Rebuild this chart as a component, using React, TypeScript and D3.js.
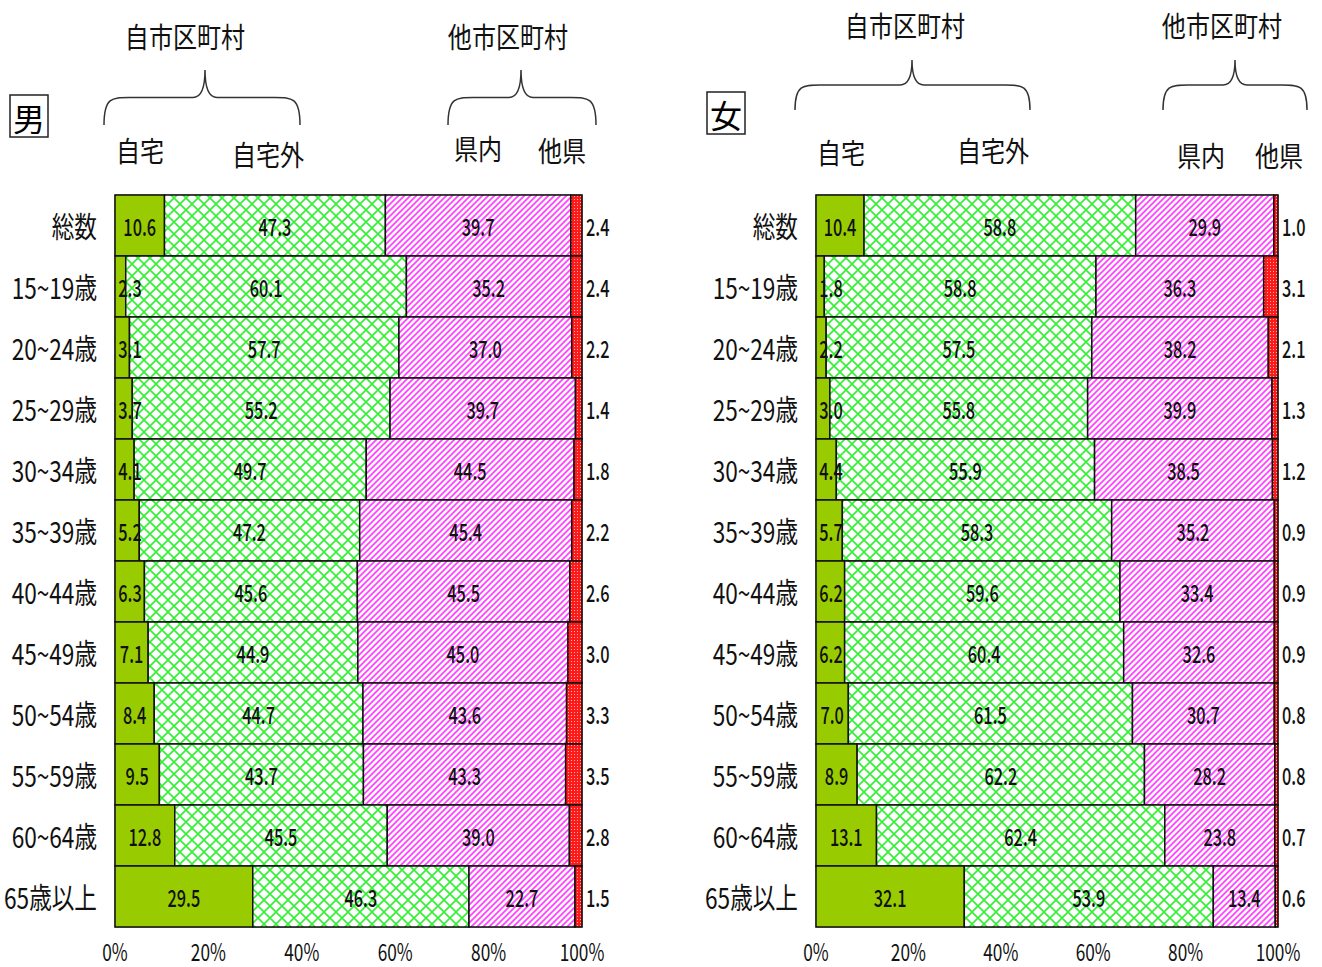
import React from "react";
import * as d3 from "d3";

const categories = ["総数", "15~19歳", "20~24歳", "25~29歳", "30~34歳", "35~39歳", "40~44歳", "45~49歳", "50~54歳", "55~59歳", "60~64歳", "65歳以上"];
const seriesNames = ["自宅", "自宅外", "県内", "他県"];

const maleHome = [10.6, 2.3, 3.1, 3.7, 4.1, 5.2, 6.3, 7.1, 8.4, 9.5, 12.8, 29.5];
const maleAway = [47.3, 60.1, 57.7, 55.2, 49.7, 47.2, 45.6, 44.9, 44.7, 43.7, 45.5, 46.3];
const maleInPref = [39.7, 35.2, 37.0, 39.7, 44.5, 45.4, 45.5, 45.0, 43.6, 43.3, 39.0, 22.7];
const maleOtherPref = [2.4, 2.4, 2.2, 1.4, 1.8, 2.2, 2.6, 3.0, 3.3, 3.5, 2.8, 1.5];

const femaleHome = [10.4, 1.8, 2.2, 3.0, 4.4, 5.7, 6.2, 6.2, 7.0, 8.9, 13.1, 32.1];
const femaleAway = [58.8, 58.8, 57.5, 55.8, 55.9, 58.3, 59.6, 60.4, 61.5, 62.2, 62.4, 53.9];
const femaleInPref = [29.9, 36.3, 38.2, 39.9, 38.5, 35.2, 33.4, 32.6, 30.7, 28.2, 23.8, 13.4];
const femaleOtherPref = [1.0, 3.1, 2.1, 1.3, 1.2, 0.9, 0.9, 0.9, 0.8, 0.8, 0.7, 0.6];

const tickValues = [0, 20, 40, 60, 80, 100];
const tickLabels = ["0%", "20%", "40%", "60%", "80%", "100%"];

const FONT = "'Noto Sans CJK JP', 'Noto Sans', sans-serif";
const fills = ["#99CC00", "url(#pHatchGreen)", "url(#pHatchPink)", "url(#pDotRed)"];

function CText({ x, y, size, anchor = "middle", sx = 0.78, weight = 400, children }: any) {
  return (
    <text
      transform={`translate(${x},${y}) scale(${sx},1)`}
      fontSize={size}
      fontFamily={FONT}
      fontWeight={weight}
      textAnchor={anchor}
      dominantBaseline="central"
      fill="#111"
    >
      {children}
    </text>
  );
}

function bracePath(x0: number, x1: number, xm: number, yTop: number, yBot: number) {
  const yMid = yTop + (yBot - yTop) * 0.5;
  return `M${x0},${yBot} C${x0},${yMid} ${x0 + 8},${yMid} ${x0 + 25},${yMid}
    L${xm - 12},${yMid} C${xm - 4},${yMid} ${xm},${yMid - 8} ${xm},${yTop}
    C${xm},${yMid - 8} ${xm + 4},${yMid} ${xm + 12},${yMid}
    L${x1 - 25},${yMid} C${x1 - 8},${yMid} ${x1},${yMid} ${x1},${yBot}`;
}

function Panel({ data, x0, x1, title, titleBox, hdr }: any) {
  const x = d3.scaleLinear().domain([0, 100]).range([x0, x1]);
  const y = d3.scaleBand<string>().domain(categories).range([195, 927]).padding(0);
  const rows = categories.map((c, i) => {
    const vals = data.map((s: number[]) => s[i]);
    let acc = 0;
    const segs = vals.map((v: number, k: number) => {
      const s = { k, v, a: acc, b: acc + v };
      acc += v;
      return s;
    });
    return { c, segs };
  });
  return (
    <g>
      <rect x={titleBox[0]} y={titleBox[1]} width={38} height={42} fill="none" stroke="#222" strokeWidth={1.5} />
      <text x={titleBox[0] + 19} y={titleBox[1] + 22} fontSize={32} fontFamily={FONT} textAnchor="middle" dominantBaseline="central">{title}</text>
      <CText x={hdr.g1x} y={hdr.gy} size={28} sx={0.86}>自市区町村</CText>
      <CText x={hdr.g2x} y={hdr.gy} size={28} sx={0.86}>他市区町村</CText>
      <path d={bracePath(hdr.b1[0], hdr.b1[1], hdr.b1[2], hdr.by[0], hdr.by[1])} fill="none" stroke="#333" strokeWidth={1.5} />
      <path d={bracePath(hdr.b2[0], hdr.b2[1], hdr.b2[2], hdr.by[0], hdr.by[1])} fill="none" stroke="#333" strokeWidth={1.5} />
      {seriesNames.map((n, i) => (
        <CText key={n} x={hdr.sx[i]} y={hdr.sy[i]} size={28} sx={0.86}>{n}</CText>
      ))}
      <rect x={x(0)} y={195} width={x(100) - x(0)} height={732} fill="#fff" stroke="#555" strokeWidth={1} />
      {rows.map((r) => (
        <g key={r.c}>
          {r.segs.map((s: any) => (
            <rect
              key={s.k}
              x={x(s.a)}
              y={y(r.c)!}
              width={Math.max(0, x(Math.min(s.b, 100)) - x(s.a))}
              height={y.bandwidth()}
              fill={fills[s.k]}
              stroke="#111"
              strokeWidth={1.5}
            />
          ))}
          {r.segs.slice(0, 3).map((s: any) => {
            const cx = Math.max((x(s.a) + x(s.b)) / 2, x(s.a) + 15);
            return (
              <CText key={"l" + s.k} x={cx} y={y(r.c)! + y.bandwidth() / 2} size={24} sx={0.68} weight={500}>
                {s.v.toFixed(1)}
              </CText>
            );
          })}
          <CText x={x(100) + 4} y={y(r.c)! + y.bandwidth() / 2} size={24} sx={0.68} anchor="start" weight={500}>
            {r.segs[3].v.toFixed(1)}
          </CText>
          <CText x={x0 - 18} y={y(r.c)! + y.bandwidth() / 2} size={29} anchor="end" sx={0.78}>
            {r.c}
          </CText>
        </g>
      ))}
      {tickValues.map((t, i) => (
        <CText key={t} x={x(t)} y={951} size={24} sx={0.72}>{tickLabels[i]}</CText>
      ))}
    </g>
  );
}

export default function App() {
  return (
    <svg width={1322} height={967} style={{ position: "absolute", left: 0, top: 0, background: "#fff" }}>
      <defs>
        <pattern id="pHatchGreen" patternUnits="userSpaceOnUse" width={12} height={12}>
          <rect width={12} height={12} fill="#fff" />
          <path d="M0,0 L12,12 M12,0 L0,12" stroke="#33ee33" strokeWidth={1.6} />
        </pattern>
        <pattern id="pHatchPink" patternUnits="userSpaceOnUse" width={6} height={6}>
          <rect width={6} height={6} fill="#fff" />
          <path d="M-1,7 L7,-1 M-4,4 L4,-4 M2,10 L10,2" stroke="#ff44ff" strokeWidth={1.8} />
        </pattern>
        <pattern id="pDotRed" patternUnits="userSpaceOnUse" width={3} height={3}>
          <rect width={3} height={3} fill="#ff1a1a" />
          <rect x={1} y={1} width={1} height={1} fill="#ffb0b0" />
        </pattern>
      </defs>
      <rect width={1322} height={967} fill="#fff" />
      <Panel
        data={[maleHome, maleAway, maleInPref, maleOtherPref]}
        x0={115}
        x1={582}
        title="男"
        titleBox={[10, 95]}
        hdr={{
          g1x: 185, g2x: 508, gy: 36,
          b1: [104, 300, 205], b2: [448, 596, 521], by: [70, 125],
          sx: [140, 268, 478, 562], sy: [150, 154, 148, 150],
        }}
      />
      <Panel
        data={[femaleHome, femaleAway, femaleInPref, femaleOtherPref]}
        x0={816}
        x1={1278}
        title="女"
        titleBox={[707, 92]}
        hdr={{
          g1x: 905, g2x: 1222, gy: 25,
          b1: [795, 1030, 912], b2: [1163, 1307, 1235], by: [60, 110],
          sx: [841, 993, 1201, 1279], sy: [152, 150, 155, 155],
        }}
      />
    </svg>
  );
}
